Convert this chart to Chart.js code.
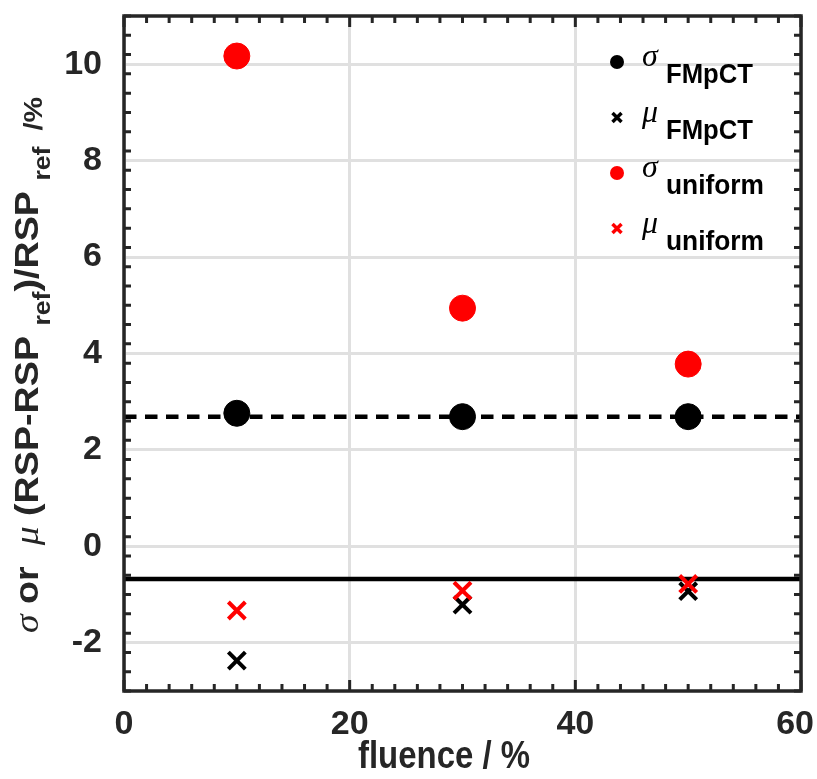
<!DOCTYPE html>
<html>
<head>
<meta charset="utf-8">
<script src="https://cdn.jsdelivr.net/npm/chart.js@4"></script>
<style>
  html, body { margin: 0; padding: 0; background: #fff; }
  #wrap { width: 817px; height: 779px; position: relative; }
</style>
</head>
<body>
<div id="wrap"><canvas id="chart"></canvas></div>
<script>
const fluence = [10, 30, 50];
const sigmaFMpCT = [2.76, 2.69, 2.69];
const muFMpCT = [-2.37, -1.21, -0.93];
const sigmaUniform = [10.17, 4.94, 3.78];
const muUniform = [-1.33, -0.92, -0.78];
const refX = [0, 60];
const sigmaRef = [2.69, 2.69];
const muRef = [-0.675, -0.675];
const xTicks = [0, 20, 40, 60];
const yTicks = [-2, 0, 2, 4, 6, 8, 10];

const INK = '#262626';
const SANS = '"Liberation Sans", Arial, sans-serif';
const SERIF = '"Liberation Serif", "Times New Roman", serif';

const pts = ys => fluence.map((x, i) => ({ x: x, y: ys[i] }));
const line = ys => refX.map((x, i) => ({ x: x, y: ys[i] }));

function noPad(s) {
  s.paddingTop = 0; s.paddingBottom = 0; s.paddingLeft = 0; s.paddingRight = 0;
}

// inward ticks on all four sides + box + x tick labels (kept inside the canvas)
const frame = {
  id: 'frame',
  afterDraw(chart) {
    const { ctx, chartArea: a, scales: { x, y } } = chart;
    ctx.save();
    ctx.strokeStyle = INK;
    ctx.lineWidth = 3;
    ctx.beginPath();
    for (let v = 0; v <= 60; v += 2) {
      const px = x.getPixelForValue(v);
      const len = v % 20 === 0 ? 11 : 7;
      ctx.moveTo(px, a.bottom); ctx.lineTo(px, a.bottom - len);
      ctx.moveTo(px, a.top); ctx.lineTo(px, a.top + len);
    }
    for (let k = -15; k <= 55; k += 2) {
      const py = y.getPixelForValue(k * 0.2);
      const len = k % 10 === 0 ? 11 : 7;
      ctx.moveTo(a.left, py); ctx.lineTo(a.left + len, py);
      ctx.moveTo(a.right, py); ctx.lineTo(a.right - len, py);
    }
    ctx.stroke();
    ctx.lineWidth = 3.5;
    ctx.strokeRect(a.left, a.top, a.right - a.left, a.bottom - a.top);

    ctx.fillStyle = INK;
    ctx.font = 'bold 34px ' + SANS;
    ctx.textAlign = 'center';
    ctx.textBaseline = 'alphabetic';
    xTicks.forEach(v => {
      const label = String(v);
      const w = ctx.measureText(label).width;
      const px = Math.min(x.getPixelForValue(v), chart.width - 3 - w / 2);
      ctx.fillText(label, px, a.bottom + 43);
    });
    ctx.restore();
  }
};

// titles with greek letters and subscripts
function drawRuns(ctx, runs, x0, y0) {
  let x = x0;
  runs.forEach(r => {
    ctx.font = r.font;
    ctx.fillText(r.t, x, y0 + (r.dy || 0));
    x += ctx.measureText(r.t).width;
  });
}
function runsWidth(ctx, runs) {
  let w = 0;
  runs.forEach(r => { ctx.font = r.font; w += ctx.measureText(r.t).width; });
  return w;
}

const titles = {
  id: 'titles',
  afterDraw(chart) {
    const ctx = chart.ctx;
    ctx.save();
    ctx.fillStyle = INK;
    ctx.textBaseline = 'alphabetic';

    // x title
    ctx.font = 'bold 38px ' + SANS;
    ctx.textAlign = 'center';
    ctx.fillText('fluence / %', 444, 768, 172);
    ctx.textAlign = 'left';

    // y title
    const main = 'bold 34px ' + SANS;
    const gr = 'italic 34px ' + SERIF;
    const sub = 'bold 24px ' + SANS;
    const runs = [
      { t: 'σ', font: gr },
      { t: ' or  ', font: main },
      { t: 'μ', font: gr },
      { t: ' (RSP-RSP ', font: main },
      { t: 'ref', font: sub, dy: 12 },
      { t: ')/RSP ', font: main },
      { t: 'ref', font: sub, dy: 12 },
      { t: '  /%', font: 'bold 26px ' + SANS, dy: 4 }
    ];
    const w = runsWidth(ctx, runs);
    const span = 536;
    ctx.translate(38, 365);
    ctx.rotate(-Math.PI / 2);
    ctx.scale(span / w, 1);
    drawRuns(ctx, runs, -w / 2, 0);
    ctx.restore();
  }
};

const legendItems = [
  { greek: 'σ', sub: 'FMpCT', color: '#000000', marker: 'dot' },
  { greek: 'μ', sub: 'FMpCT', color: '#000000', marker: 'cross' },
  { greek: 'σ', sub: 'uniform', color: '#ff0000', marker: 'dot' },
  { greek: 'μ', sub: 'uniform', color: '#ff0000', marker: 'cross' }
];

const legendBox = {
  id: 'legendBox',
  afterDraw(chart) {
    const ctx = chart.ctx;
    ctx.save();
    legendItems.forEach((it, i) => {
      const cx = 617, cy = 62 + i * 55.5;
      ctx.fillStyle = it.color;
      ctx.strokeStyle = it.color;
      if (it.marker === 'dot') {
        ctx.beginPath();
        ctx.arc(cx, cy, 7, 0, Math.PI * 2);
        ctx.fill();
      } else {
        ctx.lineWidth = 3.5;
        ctx.beginPath();
        ctx.moveTo(cx - 4.5, cy - 4.5); ctx.lineTo(cx + 4.5, cy + 4.5);
        ctx.moveTo(cx + 4.5, cy - 4.5); ctx.lineTo(cx - 4.5, cy + 4.5);
        ctx.stroke();
      }
      ctx.fillStyle = '#000000';
      ctx.textBaseline = 'alphabetic';
      ctx.font = 'italic 32px ' + SERIF;
      ctx.fillText(it.greek, 642, cy + 4);
      ctx.font = 'bold 28px ' + SANS;
      ctx.fillText(it.sub, 666, cy + 21, it.sub === 'FMpCT' ? 87 : 98);
    });
    ctx.restore();
  }
};

new Chart(document.getElementById('chart'), {
  type: 'scatter',
  data: {
    datasets: [
      { label: 'sigma FMpCT', data: pts(sigmaFMpCT), backgroundColor: '#000000', borderColor: '#000000',
        pointStyle: 'circle', pointRadius: 13, borderWidth: 1, order: 1 },
      { label: 'mu FMpCT', data: pts(muFMpCT), borderColor: '#000000',
        pointStyle: 'crossRot', pointRadius: 12, borderWidth: 4, order: 1 },
      { label: 'sigma uniform', data: pts(sigmaUniform), backgroundColor: '#ff0000', borderColor: '#ff0000',
        pointStyle: 'circle', pointRadius: 13, borderWidth: 1, order: 0 },
      { label: 'mu uniform', data: pts(muUniform), borderColor: '#ff0000',
        pointStyle: 'crossRot', pointRadius: 12, borderWidth: 4, order: 0 },
      { label: 'sigma ref', data: line(sigmaRef), showLine: true, borderColor: '#000000', borderWidth: 4.5,
        borderDash: [12.5, 8.5], pointRadius: 0, order: 2 },
      { label: 'mu ref', data: line(muRef), showLine: true, borderColor: '#000000', borderWidth: 4.5,
        pointRadius: 0, order: 2 }
    ]
  },
  options: {
    responsive: true,
    maintainAspectRatio: false,
    animation: false,
    events: [],
    layout: { padding: { top: 14, right: 13, left: 0, bottom: 0 } },
    plugins: { legend: { display: false }, tooltip: { enabled: false } },
    scales: {
      x: {
        type: 'linear', min: 0, max: 60,
        afterBuildTicks: s => { s.ticks = xTicks.map(v => ({ value: v })); },
        afterFit: s => { s.height = 88; noPad(s); },
        grid: { color: '#e0e0e0', lineWidth: 3, drawTicks: false },
        border: { display: false },
        ticks: { display: false }
      },
      y: {
        type: 'linear', min: -3, max: 11,
        afterBuildTicks: s => { s.ticks = yTicks.map(v => ({ value: v })); },
        afterFit: s => { s.width = 124; noPad(s); },
        grid: { color: '#e0e0e0', lineWidth: 3, drawTicks: false },
        border: { display: false },
        ticks: { color: INK, padding: 22, font: { family: SANS, size: 34, weight: 'bold' } }
      }
    }
  },
  plugins: [frame, titles, legendBox]
});
</script>
</body>
</html>
